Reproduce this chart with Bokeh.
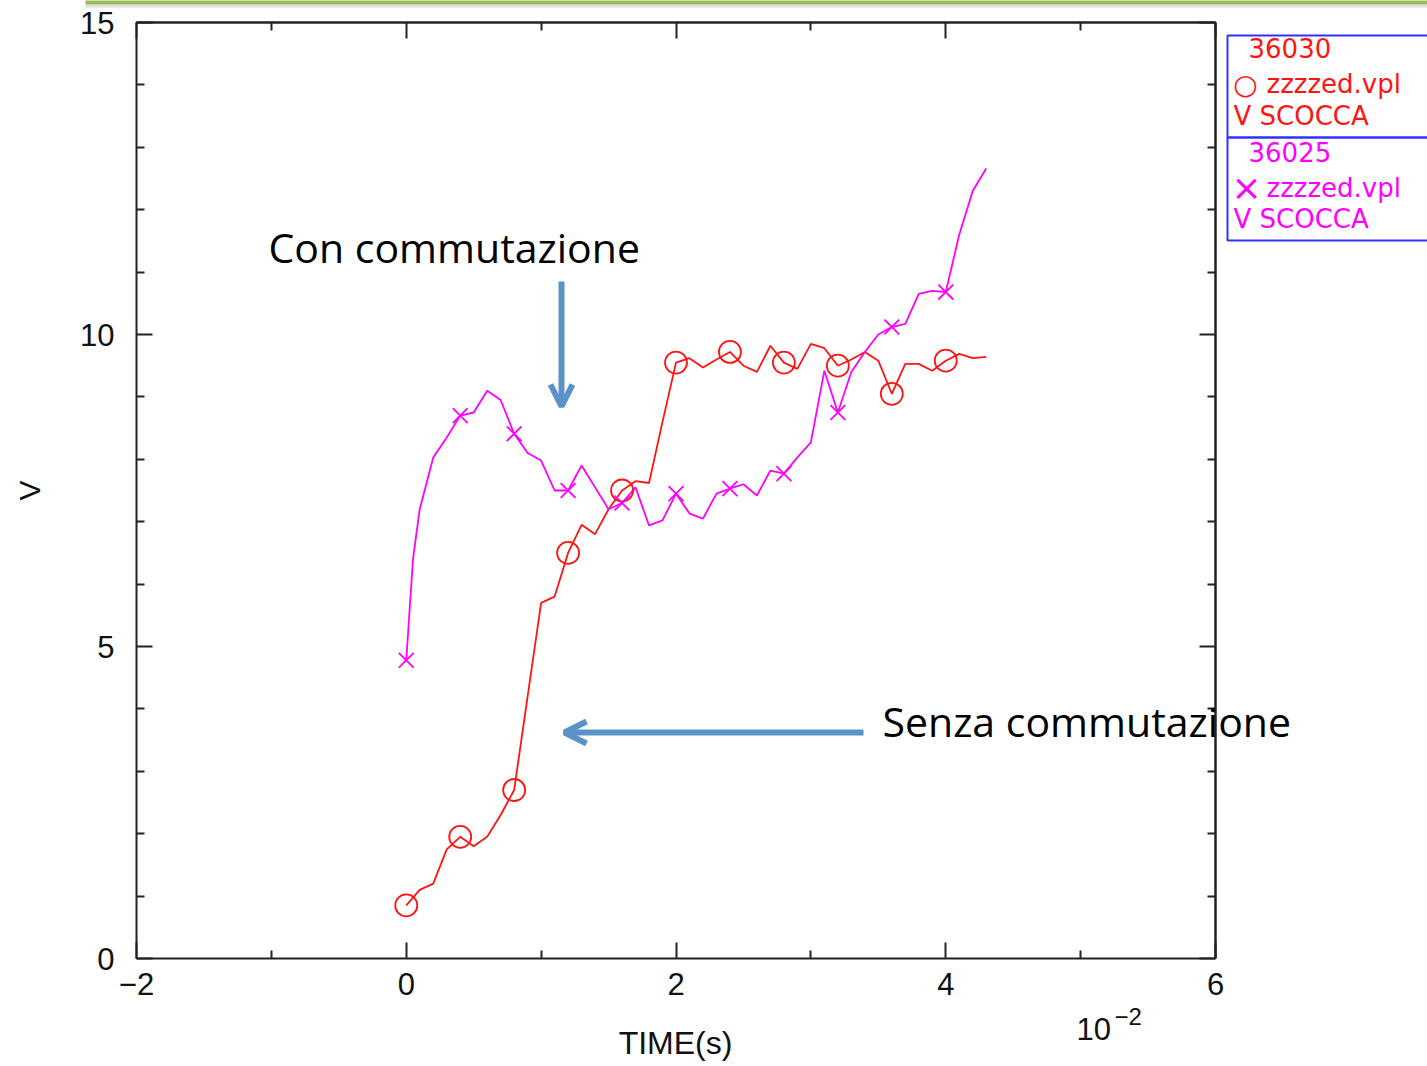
import math
from bokeh.plotting import figure
from bokeh.models import (LinearAxis, FixedTicker, Range1d, Label, Arrow,
                          OpenHead, PolyAnnotation, ColumnDataSource)
from bokeh.embed import file_html
from bokeh.resources import INLINE

# ---- data (time in units of 1e-2 s, voltage in V) ----
time_red = [0.0, 0.1, 0.2, 0.3, 0.4, 0.5, 0.6, 0.7, 0.8, 0.9, 1.0, 1.1, 1.2, 1.3, 1.4,
            1.5, 1.6, 1.7, 1.8, 1.9, 2.0, 2.1, 2.2, 2.3, 2.4, 2.5, 2.6, 2.7, 2.8, 2.9,
            3.0, 3.1, 3.2, 3.3, 3.4, 3.5, 3.6, 3.7, 3.8, 3.9, 4.0, 4.1, 4.2, 4.3]
v_red = [0.85, 1.1, 1.2, 1.75, 1.95, 1.8, 1.95, 2.3, 2.7, 4.2, 5.7, 5.8, 6.5, 6.95, 6.8,
         7.2, 7.5, 7.65, 7.62, 8.6, 9.55, 9.62, 9.47, 9.6, 9.72, 9.5, 9.4, 9.82, 9.55, 9.45,
         9.85, 9.78, 9.5, 9.6, 9.72, 9.58, 9.05, 9.53, 9.53, 9.42, 9.58, 9.69, 9.62, 9.64]

time_mag = [0.0, 0.05, 0.1, 0.2, 0.3, 0.4, 0.5, 0.6, 0.7, 0.8, 0.9, 1.0, 1.1, 1.2, 1.3, 1.4,
            1.5, 1.6, 1.7, 1.8, 1.9, 2.0, 2.1, 2.2, 2.3, 2.4, 2.5, 2.6, 2.7, 2.8, 2.9,
            3.0, 3.1, 3.2, 3.3, 3.4, 3.5, 3.6, 3.7, 3.8, 3.9, 4.0, 4.1, 4.2, 4.3]
v_mag = [4.78, 6.4, 7.2, 8.03, 8.35, 8.7, 8.75, 9.1, 8.95, 8.41, 8.1, 7.98, 7.5, 7.5, 7.9, 7.55,
         7.2, 7.3, 7.55, 6.94, 7.02, 7.45, 7.13, 7.05, 7.45, 7.53, 7.6, 7.42, 7.82, 7.77, 8.03,
         8.27, 9.42, 8.75, 9.4, 9.72, 10.0, 10.12, 10.17, 10.65, 10.7, 10.68, 11.6, 12.3, 12.66]

# marker sample times (every 0.4e-2 s)
marker_times = [0.0, 0.4, 0.8, 1.2, 1.6, 2.0, 2.4, 2.8, 3.2, 3.6, 4.0]

x_tick_labels = {-2: "\u22122", 0: "0", 2: "2", 4: "4", 6: "6"}
x_minor_ticks = [-1, 1, 3, 5]
y_tick_labels = {0: "0", 5: "5", 10: "10", 15: "15"}
y_minor_ticks = [1, 2, 3, 4, 6, 7, 8, 9, 11, 12, 13, 14]
legend_red = ["36030", "zzzzed.vpl", "V SCOCCA"]
legend_mag = ["36025", "zzzzed.vpl", "V SCOCCA"]

RED = "#ff1414"
MAG = "#ff00ff"
ARROW = "#5b93c9"
AXC = "#222222"
TXT = "#111111"

# ---- geometry: plot box in canvas pixels ----
W, H = 1427, 1066
FL, FR, FT, FB = 136, 1215, 22, 958
X0, X1, Y0, Y1 = -2, 6, 0, 15
def X(px):
    return X0 + (px - FL) * (X1 - X0) / (FR - FL)
def Y(py):
    return Y0 + (FB - py) * (Y1 - Y0) / (FB - FT)

p = figure(width=W, height=H, min_border=0,
           x_range=Range1d(X(0), X(W)), y_range=Range1d(Y(H), Y(0)),
           x_axis_location=None, y_axis_location=None,
           output_backend="svg", toolbar_location=None,
           background_fill_color="white", border_fill_color="white")
p.grid.visible = False
p.outline_line_color = None

def base_axis(ax, tick_in, minor_in):
    ax.axis_line_color = AXC
    ax.axis_line_width = 2
    ax.major_tick_line_color = AXC
    ax.minor_tick_line_color = AXC
    ax.major_tick_line_width = 2
    ax.minor_tick_line_width = 2
    ax.major_tick_in = tick_in
    ax.major_tick_out = 0
    ax.minor_tick_in = minor_in
    ax.minor_tick_out = 0
    ax.major_label_text_font = "Liberation Sans"
    ax.major_label_text_font_size = "31px"
    ax.major_label_text_color = TXT

# bottom axis with labels
bx = LinearAxis(ticker=FixedTicker(ticks=list(x_tick_labels.keys()), minor_ticks=x_minor_ticks),
                fixed_location=Y0, bounds=(X0, X1))
base_axis(bx, 16, 8)
bx.major_label_overrides = x_tick_labels
bx.major_label_standoff = 14
p.add_layout(bx, "below")

# left axis with labels
lx = LinearAxis(ticker=FixedTicker(ticks=list(y_tick_labels.keys()), minor_ticks=y_minor_ticks),
                fixed_location=X0, bounds=(Y0, Y1))
base_axis(lx, 16, 8)
lx.major_label_overrides = y_tick_labels
lx.major_label_standoff = 22
p.add_layout(lx, "left")

# top and right axes: ticks only (long ticks at labelled positions, short ones between)
for side, loc, bnds, majors, minors in (
        ("above", Y1, (X0, X1), list(x_tick_labels.keys()), x_minor_ticks),
        ("right", X1, (Y0, Y1), list(y_tick_labels.keys()), y_minor_ticks)):
    a1 = LinearAxis(ticker=FixedTicker(ticks=[], minor_ticks=majors),
                    fixed_location=loc, bounds=bnds)
    base_axis(a1, 16, 16)
    p.add_layout(a1, side)
    a2 = LinearAxis(ticker=FixedTicker(ticks=[], minor_ticks=minors),
                    fixed_location=loc, bounds=bnds)
    base_axis(a2, 8, 8)
    p.add_layout(a2, side)

# axis titles
p.add_layout(Label(x=X(675), y=Y(1042), text="TIME(s)", text_font="Liberation Sans",
                   text_font_size="32px", text_color=TXT, text_align="center",
                   text_baseline="middle"))
p.add_layout(Label(x=X(29), y=Y(490), text="V", text_font="Liberation Sans",
                   text_font_size="30px", text_color=TXT, text_align="center",
                   text_baseline="middle", angle=math.pi / 2))
# 10^-2 multiplier
p.add_layout(Label(x=X(1076), y=Y(1028), text="10", text_font="Liberation Sans",
                   text_font_size="31px", text_color=TXT, text_baseline="middle"))
p.add_layout(Label(x=X(1114), y=Y(1016), text="\u22122", text_font="Liberation Sans",
                   text_font_size="24px", text_color=TXT, text_baseline="middle"))

# ---- series ----
src_red = ColumnDataSource(dict(t=time_red, v=v_red))
src_mag = ColumnDataSource(dict(t=time_mag, v=v_mag))
p.line("t", "v", source=src_red, line_color=RED, line_width=1.8)
p.line("t", "v", source=src_mag, line_color=MAG, line_width=1.8)

red_m = ColumnDataSource(dict(t=[t for t in time_red if t in marker_times],
                              v=[v for t, v in zip(time_red, v_red) if t in marker_times]))
mag_m = ColumnDataSource(dict(t=[t for t in time_mag if t in marker_times],
                              v=[v for t, v in zip(time_mag, v_mag) if t in marker_times]))
p.scatter("t", "v", source=red_m, marker="circle", size=22, fill_alpha=0,
          line_color=RED, line_width=1.8)
p.scatter("t", "v", source=mag_m, marker="x", size=21, line_color=MAG, line_width=1.8)

# ---- annotations ----
p.add_layout(Label(x=X(268), y=Y(246), text="Con commutazione", text_font="Open Sans",
                   text_font_size="41px", text_color="#000000", text_baseline="middle"))
p.add_layout(Label(x=X(882), y=Y(720), text="Senza commutazione", text_font="Open Sans",
                   text_font_size="41px", text_color="#000000", text_baseline="middle"))
p.add_layout(Arrow(end=OpenHead(size=22, line_color=ARROW, line_width=6),
                   x_start=X(561), y_start=Y(281), x_end=X(561), y_end=Y(406),
                   line_color=ARROW, line_width=6))
p.add_layout(Arrow(end=OpenHead(size=22, line_color=ARROW, line_width=6),
                   x_start=X(863), y_start=Y(732), x_end=X(564), y_end=Y(732),
                   line_color=ARROW, line_width=6))

# green slide bar on top
p.add_layout(PolyAnnotation(xs=[X(85), X(1430), X(1430), X(85)],
                            ys=[Y(-2), Y(-2), Y(4), Y(4)],
                            fill_color="#9bbb59", fill_alpha=1, line_alpha=0))
p.add_layout(PolyAnnotation(xs=[X(85), X(1430), X(1430), X(85)],
                            ys=[Y(4), Y(4), Y(7), Y(7)],
                            fill_color="#bbbbbb", fill_alpha=0.5, line_alpha=0))

# legend boxes
LB = "#3030ff"
for top, bot in ((35, 137), (137, 240)):
    p.add_layout(PolyAnnotation(xs=[X(1227), X(1440), X(1440), X(1227)],
                                ys=[Y(top), Y(top), Y(bot), Y(bot)],
                                fill_alpha=0, line_color=LB, line_alpha=1, line_width=2))

LF = "DejaVu Sans"
for color, texts, rows in ((RED, legend_red, (47, 83, 115)), (MAG, legend_mag, (151, 187, 218))):
    p.add_layout(Label(x=X(1248), y=Y(rows[0]), text=texts[0], text_font=LF,
                       text_font_size="26px", text_color=color, text_baseline="middle"))
    p.add_layout(Label(x=X(1266), y=Y(rows[1]), text=texts[1], text_font=LF,
                       text_font_size="26px", text_color=color, text_baseline="middle"))
    p.add_layout(Label(x=X(1233), y=Y(rows[2]), text=texts[2], text_font=LF,
                       text_font_size="26px", text_color=color, text_baseline="middle"))

p.add_layout(Label(x=X(1245), y=Y(84), text="\u25cb", text_font=LF, text_font_size="28px",
                   text_color=RED, text_align="center", text_baseline="middle"))
p.add_layout(Label(x=X(1246), y=Y(187), text="\u00d7", text_font=LF, text_font_size="36px",
                   text_color=MAG, text_align="center", text_baseline="middle"))

open("out.html", "w").write(file_html(p, INLINE))
